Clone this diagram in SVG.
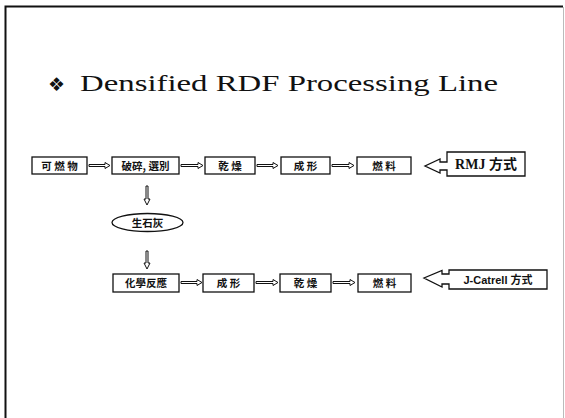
<svg xmlns="http://www.w3.org/2000/svg" width="565" height="418" viewBox="0 0 565 418">
  <style>
    .box { fill: #fff; stroke: #111; stroke-width: 1.3; }
    .arr { fill: #fff; stroke: #111; stroke-width: 1; stroke-linejoin: miter; }
    .lbl { font-family: "Noto Sans CJK KR", "Noto Sans CJK TC", sans-serif; font-weight: 700; font-size: 10.5px; fill: #111; text-anchor: middle; }
    .call { font-weight: 700; fill: #111; text-anchor: middle; }
    .title { font-family: "Liberation Serif", "DejaVu Serif", serif; font-size: 23px; fill: #111; }
  </style>

  <rect width="565" height="418" fill="#fff"/>

  <!-- slide frame -->
  <path d="M5.5,418 V6.5 H563" fill="none" stroke="#111" stroke-width="2"/>
  <path d="M563.5,7 V418" fill="none" stroke="#bbb" stroke-width="1"/>

  <!-- heading -->
  <text x="48" y="91" font-family="DejaVu Sans, sans-serif" font-size="19" fill="#111">❖</text>
  <text class="title" x="80" y="91" textLength="418" lengthAdjust="spacingAndGlyphs">Densified RDF Processing Line</text>

  <!-- connectors -->
  <g id="connectors">
    <!-- row 1 -->
    <path class="arr" d="M89,164.5 H105 V162.5 L110,165.5 L105,168.5 V166.5 H89 Z"/>
    <path class="arr" d="M181,164.5 H198 V162.5 L203,165.5 L198,168.5 V166.5 H181 Z"/>
    <path class="arr" d="M257,164.5 H273 V162.5 L278,165.5 L273,168.5 V166.5 H257 Z"/>
    <path class="arr" d="M332,164.5 H349 V162.5 L354,165.5 L349,168.5 V166.5 H332 Z"/>
    <!-- down to quicklime and reaction -->
    <path class="arr" d="M146,186 V199 H144 L147,205 L150,199 H148 V186 Z"/>
    <path class="arr" d="M146,251 V263 H144 L147,269 L150,263 H148 V251 Z"/>
    <!-- row 2 -->
    <path class="arr" d="M181,281.5 H197 V279.5 L202,282.5 L197,285.5 V283.5 H181 Z"/>
    <path class="arr" d="M256,281.5 H273 V279.5 L278,282.5 L273,285.5 V283.5 H256 Z"/>
    <path class="arr" d="M333,281.5 H350 V279.5 L355,282.5 L350,285.5 V283.5 H333 Z"/>
  </g>

  <!-- row 1 nodes -->
  <g id="n-combustible">
    <rect class="box" x="32" y="157" width="55" height="17"/>
    <text class="lbl" x="59.5" y="169.5">可 燃 物</text>
  </g>
  <g id="n-crush-sort">
    <rect class="box" x="112" y="157" width="67" height="17"/>
    <text class="lbl" x="145.5" y="169.5">破碎, 選別</text>
  </g>
  <g id="n-dry-1">
    <rect class="box" x="205" y="157" width="50" height="17"/>
    <text class="lbl" x="230" y="169.5">乾  燥</text>
  </g>
  <g id="n-form-1">
    <rect class="box" x="281" y="157" width="49" height="17"/>
    <text class="lbl" x="305.5" y="169.5">成  形</text>
  </g>
  <g id="n-fuel-1">
    <rect class="box" x="357" y="157" width="54" height="17"/>
    <text class="lbl" x="384" y="169.5">燃  料</text>
  </g>
  <g id="n-rmj">
    <path class="box" d="M447,152 H525 V176 H447 V170 H440 V173 L425,166 L440,159 V162 H447 Z"/>
    <text class="call" x="486" y="169" font-size="14" font-family="Liberation Serif, Noto Sans CJK KR, serif">RMJ 方式</text>
  </g>

  <!-- quicklime -->
  <g id="n-quicklime">
    <ellipse class="box" cx="147.5" cy="222.5" rx="35.5" ry="9"/>
    <text class="lbl" x="147.5" y="226.5">生石灰</text>
  </g>

  <!-- row 2 nodes -->
  <g id="n-reaction">
    <rect class="box" x="113" y="274" width="66" height="18"/>
    <text class="lbl" x="146" y="287">化學反應</text>
  </g>
  <g id="n-form-2">
    <rect class="box" x="203" y="274" width="51" height="18"/>
    <text class="lbl" x="228.5" y="287">成  形</text>
  </g>
  <g id="n-dry-2">
    <rect class="box" x="280" y="274" width="51" height="18"/>
    <text class="lbl" x="305.5" y="287">乾  燥</text>
  </g>
  <g id="n-fuel-2">
    <rect class="box" x="358" y="274" width="53" height="18"/>
    <text class="lbl" x="384.5" y="287">燃  料</text>
  </g>
  <g id="n-jcatrell">
    <path class="box" d="M449,270 H547 V289 H449 V284 H442 V287 L424,278 L442,270.5 V274 H449 Z"/>
    <text class="call" x="498" y="284" font-size="11" font-family="Liberation Sans, Noto Sans CJK KR, sans-serif">J-Catrell 方式</text>
  </g>
</svg>
